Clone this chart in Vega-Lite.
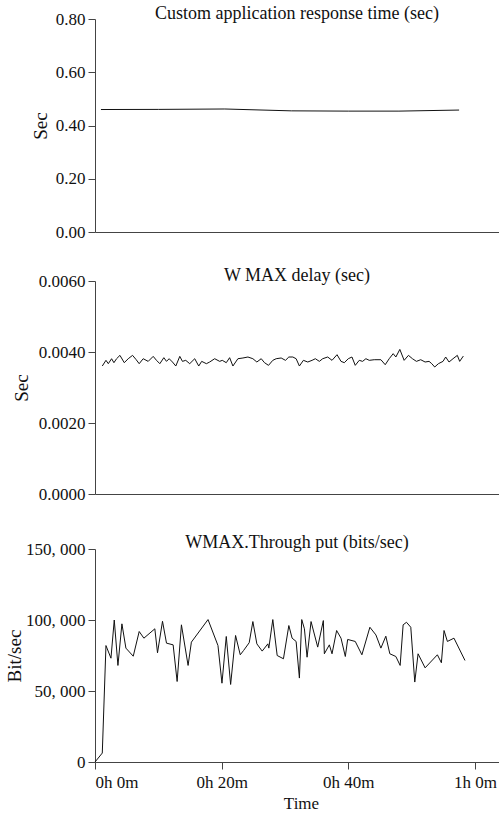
{
  "$schema": "https://vega.github.io/schema/vega-lite/v6.json",
  "padding": {"left": 5, "top": 5, "right": 0, "bottom": 0},
  "background": "white",
  "spacing": 27,
  "config": {
    "view": {"stroke": null},
    "font": "Liberation Serif",
    "title": {"font": "Liberation Serif", "fontSize": 18, "fontWeight": "normal", "color": "#111", "anchor": "middle", "baseline": "alphabetic"},
    "axis": {"labelFont": "Liberation Serif", "labelFontSize": 17, "titleFont": "Liberation Serif", "titleFontSize": 19, "titleFontWeight": "normal", "labelColor": "#111", "titleColor": "#111", "domainColor": "#444", "tickColor": "#444", "grid": false, "tickSize": 7},
    "axisX": {"labelFont": "Liberation Serif", "titleFontSize": 17},
    "axisY": {"labelFont": "Liberation Serif"}
  },
  "datasets": {
    "resp": [{"t":0.94,"v":0.460},{"t":10,"v":0.4605},{"t":20.5,"v":0.462},{"t":31,"v":0.455},{"t":40,"v":0.454},{"t":48,"v":0.454},{"t":57.5,"v":0.458}],
    "delay": [{"t":1.15,"v":0.003605},{"t":1.73,"v":0.003765},{"t":2.10,"v":0.003671},{"t":2.62,"v":0.003811},{"t":2.99,"v":0.003699},{"t":3.41,"v":0.003811},{"t":3.94,"v":0.003905},{"t":4.62,"v":0.003699},{"t":5.25,"v":0.003811},{"t":5.93,"v":0.003905},{"t":6.46,"v":0.003793},{"t":6.98,"v":0.003671},{"t":7.61,"v":0.003811},{"t":8.40,"v":0.003736},{"t":9.19,"v":0.003877},{"t":9.71,"v":0.003765},{"t":10.24,"v":0.003671},{"t":10.87,"v":0.00384},{"t":11.29,"v":0.003736},{"t":11.71,"v":0.003811},{"t":12.23,"v":0.003718},{"t":12.76,"v":0.003605},{"t":13.39,"v":0.003877},{"t":13.81,"v":0.003736},{"t":14.33,"v":0.003765},{"t":14.96,"v":0.003671},{"t":15.75,"v":0.003811},{"t":16.38,"v":0.003605},{"t":16.85,"v":0.003736},{"t":17.59,"v":0.003671},{"t":18.11,"v":0.003718},{"t":18.90,"v":0.003811},{"t":19.69,"v":0.003736},{"t":20.10,"v":0.003765},{"t":20.73,"v":0.003699},{"t":21.26,"v":0.00384},{"t":21.78,"v":0.003605},{"t":22.57,"v":0.003811},{"t":23.36,"v":0.003831},{"t":24.15,"v":0.003859},{"t":24.93,"v":0.003811},{"t":25.56,"v":0.003718},{"t":26.25,"v":0.003811},{"t":26.77,"v":0.003699},{"t":27.40,"v":0.003624},{"t":28.08,"v":0.003765},{"t":28.61,"v":0.003811},{"t":29.40,"v":0.003831},{"t":30.08,"v":0.003765},{"t":30.61,"v":0.003859},{"t":31.24,"v":0.003859},{"t":31.76,"v":0.003811},{"t":32.28,"v":0.003605},{"t":32.91,"v":0.003765},{"t":33.60,"v":0.003718},{"t":34.28,"v":0.003765},{"t":34.80,"v":0.003811},{"t":35.43,"v":0.003736},{"t":35.96,"v":0.003811},{"t":36.75,"v":0.003859},{"t":37.43,"v":0.003765},{"t":38.22,"v":0.003924},{"t":38.85,"v":0.003736},{"t":39.37,"v":0.003699},{"t":40.00,"v":0.003811},{"t":40.58,"v":0.003859},{"t":41.10,"v":0.003624},{"t":41.73,"v":0.003765},{"t":42.26,"v":0.003736},{"t":42.78,"v":0.003811},{"t":43.31,"v":0.003765},{"t":44.10,"v":0.003783},{"t":45.15,"v":0.003783},{"t":45.83,"v":0.003642},{"t":46.46,"v":0.003811},{"t":47.09,"v":0.003953},{"t":47.51,"v":0.003859},{"t":48.14,"v":0.004073},{"t":48.82,"v":0.003765},{"t":49.50,"v":0.003905},{"t":50.13,"v":0.003811},{"t":50.76,"v":0.003736},{"t":51.44,"v":0.003783},{"t":52.13,"v":0.003718},{"t":52.76,"v":0.003736},{"t":53.18,"v":0.003671},{"t":53.65,"v":0.003577},{"t":54.23,"v":0.003671},{"t":54.96,"v":0.003736},{"t":55.38,"v":0.003859},{"t":55.91,"v":0.003718},{"t":56.54,"v":0.003811},{"t":57.22,"v":0.003905},{"t":57.59,"v":0.003736},{"t":58.17,"v":0.003886}],
    "thr": [{"t":0,"v":0},{"t":1.15,"v":6300},{"t":1.73,"v":82000},{"t":2.52,"v":73100},{"t":3.04,"v":100000},{"t":3.62,"v":68000},{"t":4.25,"v":97300},{"t":4.88,"v":80200},{"t":6.04,"v":74500},{"t":6.98,"v":91900},{"t":7.72,"v":87200},{"t":9.45,"v":93800},{"t":9.87,"v":76900},{"t":10.66,"v":99100},{"t":11.29,"v":83700},{"t":12.34,"v":82500},{"t":12.97,"v":56700},{"t":13.65,"v":96600},{"t":14.70,"v":68000},{"t":15.22,"v":84400},{"t":17.85,"v":100300},{"t":19.42,"v":82000},{"t":20.05,"v":55500},{"t":20.73,"v":88400},{"t":21.42,"v":54600},{"t":22.20,"v":89100},{"t":22.94,"v":75500},{"t":23.46,"v":78500},{"t":24.35,"v":84000},{"t":24.93,"v":98900},{"t":25.56,"v":83200},{"t":26.40,"v":78100},{"t":27.30,"v":83200},{"t":27.45,"v":80200},{"t":28.08,"v":100300},{"t":28.77,"v":75000},{"t":29.76,"v":72700},{"t":30.61,"v":96100},{"t":31.13,"v":87200},{"t":31.76,"v":84900},{"t":32.28,"v":59100},{"t":32.65,"v":100300},{"t":33.07,"v":93800},{"t":33.49,"v":73800},{"t":34.12,"v":98900},{"t":35.17,"v":80900},{"t":36.06,"v":99600},{"t":36.22,"v":76200},{"t":37.01,"v":82500},{"t":37.43,"v":76200},{"t":38.16,"v":92600},{"t":38.85,"v":87200},{"t":39.53,"v":74300},{"t":39.90,"v":86300},{"t":41.10,"v":84900},{"t":42.15,"v":75500},{"t":43.41,"v":94900},{"t":44.36,"v":89500},{"t":45.15,"v":80200},{"t":45.93,"v":88600},{"t":46.56,"v":76200},{"t":47.51,"v":74300},{"t":48.19,"v":68000},{"t":48.66,"v":96600},{"t":49.19,"v":98400},{"t":49.87,"v":94900},{"t":50.50,"v":56300},{"t":51.02,"v":76200},{"t":52.13,"v":66300},{"t":54.07,"v":75500},{"t":54.70,"v":69900},{"t":55.12,"v":92600},{"t":55.65,"v":84900},{"t":56.69,"v":87200},{"t":58.43,"v":71500}]
  },
  "vconcat": [
    {
      "width": 404, "height": 213,
      "title": {"text": "Custom application response time (sec)", "offset": -13},
      "data": {"name": "resp"},
      "mark": {"type": "line", "color": "#111", "strokeWidth": 1},
      "encoding": {
        "x": {"field": "t", "type": "quantitative", "scale": {"domain": [0, 63.8], "nice": false}, "axis": {"ticks": false, "labels": false, "title": null}},
        "y": {"field": "v", "type": "quantitative", "scale": {"domain": [0, 0.8], "nice": false}, "axis": {"values": [0, 0.2, 0.4, 0.6, 0.8], "format": ".2f", "title": "Sec", "titlePadding": 5, "labelPadding": 3, "labelFont": "Liberation Serif"}}
      }
    },
    {
      "width": 404, "height": 213,
      "title": {"text": "W MAX delay (sec)", "offset": -13},
      "data": {"name": "delay"},
      "mark": {"type": "line", "color": "#111", "strokeWidth": 1},
      "encoding": {
        "x": {"field": "t", "type": "quantitative", "scale": {"domain": [0, 63.8], "nice": false}, "axis": {"values": [0], "labels": false, "title": null, "tickSize": 12.5, "tickOpacity": 0}},
        "y": {"field": "v", "type": "quantitative", "scale": {"domain": [0, 0.006], "nice": false}, "axis": {"values": [0, 0.002, 0.004, 0.006], "format": ".4f", "title": "Sec", "titlePadding": 7, "labelPadding": 3, "labelFont": "Liberation Serif"}}
      }
    },
    {
      "width": 404, "height": 213,
      "title": {"text": "WMAX.Through put (bits/sec)", "offset": -12},
      "data": {"name": "thr"},
      "mark": {"type": "line", "color": "#111", "strokeWidth": 1},
      "encoding": {
        "x": {"field": "t", "type": "quantitative", "scale": {"domain": [0, 63.8], "nice": false}, "axis": {"values": [0, 20, 40, 60], "labelExpr": "floor(datum.value/60) + 'h ' + (datum.value % 60) + 'm'", "title": "Time", "labelPadding": 5, "titlePadding": 5, "titleX": 206, "labelFont": "Liberation Serif"}},
        "y": {"field": "v", "type": "quantitative", "scale": {"domain": [0, 150000], "nice": false}, "axis": {"values": [0, 50000, 100000, 150000], "labelExpr": "replace(format(datum.value, ','), ',', ', ')", "title": "Bit/sec", "titlePadding": 1, "labelPadding": 3, "labelFont": "Liberation Serif"}}
      }
    }
  ]
}
